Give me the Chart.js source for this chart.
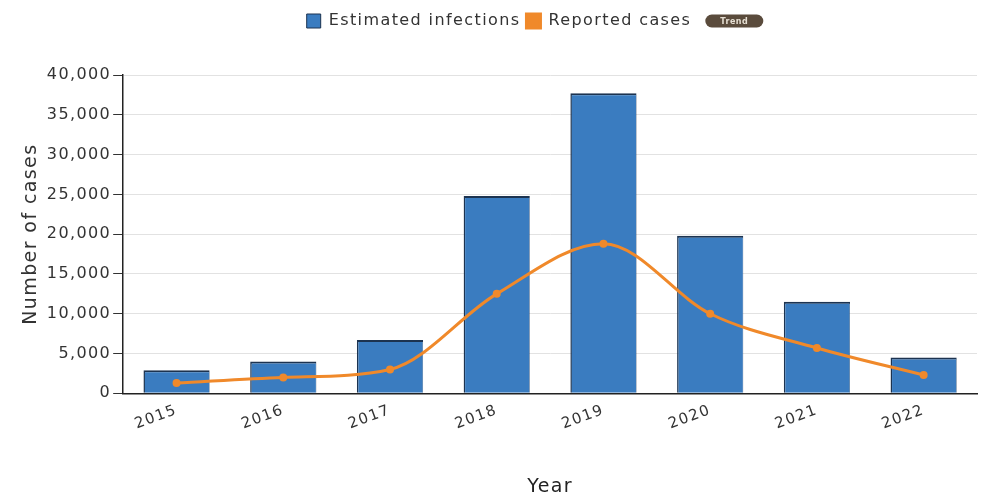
<!DOCTYPE html>
<html>
<head>
<meta charset="utf-8">
<script src="https://cdn.jsdelivr.net/npm/chart.js@4"></script>
<style>
  html, body { margin: 0; padding: 0; background: #ffffff; }
</style>
</head>
<body>
<canvas id="c" width="981" height="498"></canvas>
<script>
// Yearly case counts
const years = ['2015', '2016', '2017', '2018', '2019', '2020', '2021', '2022'];
const estimatedInfections = [2900, 4000, 6700, 24800, 37700, 19800, 11500, 4500];
const reportedCases = [1300, 2000, 3000, 12500, 18800, 10000, 5700, 2300];
const yTicks = [0, 5000, 10000, 15000, 20000, 25000, 30000, 35000, 40000];
const badgeText = 'Trend';

const FONT = '"DejaVu Sans", "Open Sans", sans-serif';

// Slightly wider letter spacing for all chart text
const textSpacing = {
  id: 'textSpacing',
  beforeLayout(chart) { chart.ctx.letterSpacing = '1.4px'; },
  beforeDraw(chart) { chart.ctx.letterSpacing = '1.4px'; }
};

// Extra room under the legend, and a small rounded badge after its last item
const legendExtras = {
  id: 'legendExtras',
  beforeInit(chart) {
    const legend = chart.legend;
    const fit = legend.fit;
    legend.fit = function () {
      fit.call(this);
      this.height += 36;
    };
  },
  afterDraw(chart) {
    const boxes = chart.legend.legendHitBoxes;
    if (!boxes || !boxes.length) return;
    const last = boxes[boxes.length - 1];
    const ctx = chart.ctx;
    const w = 58, h = 13;
    const x = last.left + last.width + 14;
    const y = last.top + last.height / 2 - h / 2;
    ctx.save();
    ctx.letterSpacing = '0.5px';
    ctx.fillStyle = '#5a4b3c';
    ctx.beginPath();
    ctx.roundRect(x, y, w, h, h / 2);
    ctx.fill();
    ctx.fillStyle = '#e6dfd3';
    ctx.font = 'bold 8px ' + FONT;
    ctx.textAlign = 'center';
    ctx.textBaseline = 'middle';
    ctx.fillText(badgeText, x + w / 2, y + h / 2 + 0.5);
    ctx.restore();
  }
};

new Chart(document.getElementById('c'), {
  data: {
    labels: years,
    datasets: [
      {
        type: 'line',
        label: 'Reported cases',
        data: reportedCases,
        borderColor: '#f0892a',
        backgroundColor: '#f0892a',
        borderWidth: 3,
        cubicInterpolationMode: 'monotone',
        pointRadius: 4,
        pointBorderWidth: 0,
        order: 1
      },
      {
        type: 'bar',
        label: 'Estimated infections',
        data: estimatedInfections,
        backgroundColor: '#3a7cc0',
        borderColor: '#1c3350',
        borderWidth: { top: 2, left: 1.5, right: 0.5, bottom: 0 },
        categoryPercentage: 1.0,
        barPercentage: 0.62,
        order: 2
      }
    ]
  },
  plugins: [textSpacing, legendExtras],
  options: {
    responsive: false,
    animation: false,
    devicePixelRatio: 1,
    layout: { padding: { left: 20, right: 3, top: 7, bottom: 0 } },
    plugins: {
      legend: {
        position: 'top',
        reverse: true,
        labels: {
          boxWidth: 14, boxHeight: 14, padding: 6,
          color: '#333333',
          font: { family: FONT, size: 16 }
        }
      },
      tooltip: { enabled: false }
    },
    scales: {
      x: {
        grid: { display: false, drawTicks: true, tickLength: 8, color: '#333' },
        border: { color: '#222222', width: 1.5 },
        ticks: {
          color: '#333333',
          font: { family: FONT, size: 15 },
          minRotation: 20, maxRotation: 20,
          padding: 0
        },
        title: {
          display: true, text: 'Year', color: '#222222',
          font: { family: FONT, size: 19 },
          padding: { top: 42, bottom: 0 }
        }
      },
      y: {
        min: 0, max: 40000,
        afterBuildTicks: (scale) => { scale.ticks = yTicks.map(v => ({ value: v })); },
        grid: { color: '#e2e2e2', tickColor: '#333333', tickLength: 10, lineWidth: 1 },
        border: { color: '#222222', width: 1.5 },
        ticks: {
          color: '#333333',
          font: { family: FONT, size: 16 },
          padding: 2,
          callback: (v) => v.toLocaleString('en-US')
        },
        title: {
          display: true, text: 'Number of cases', color: '#333333',
          font: { family: FONT, size: 19 },
          padding: { top: 0, bottom: 2 }
        }
      }
    }
  }
});
</script>
</body>
</html>
